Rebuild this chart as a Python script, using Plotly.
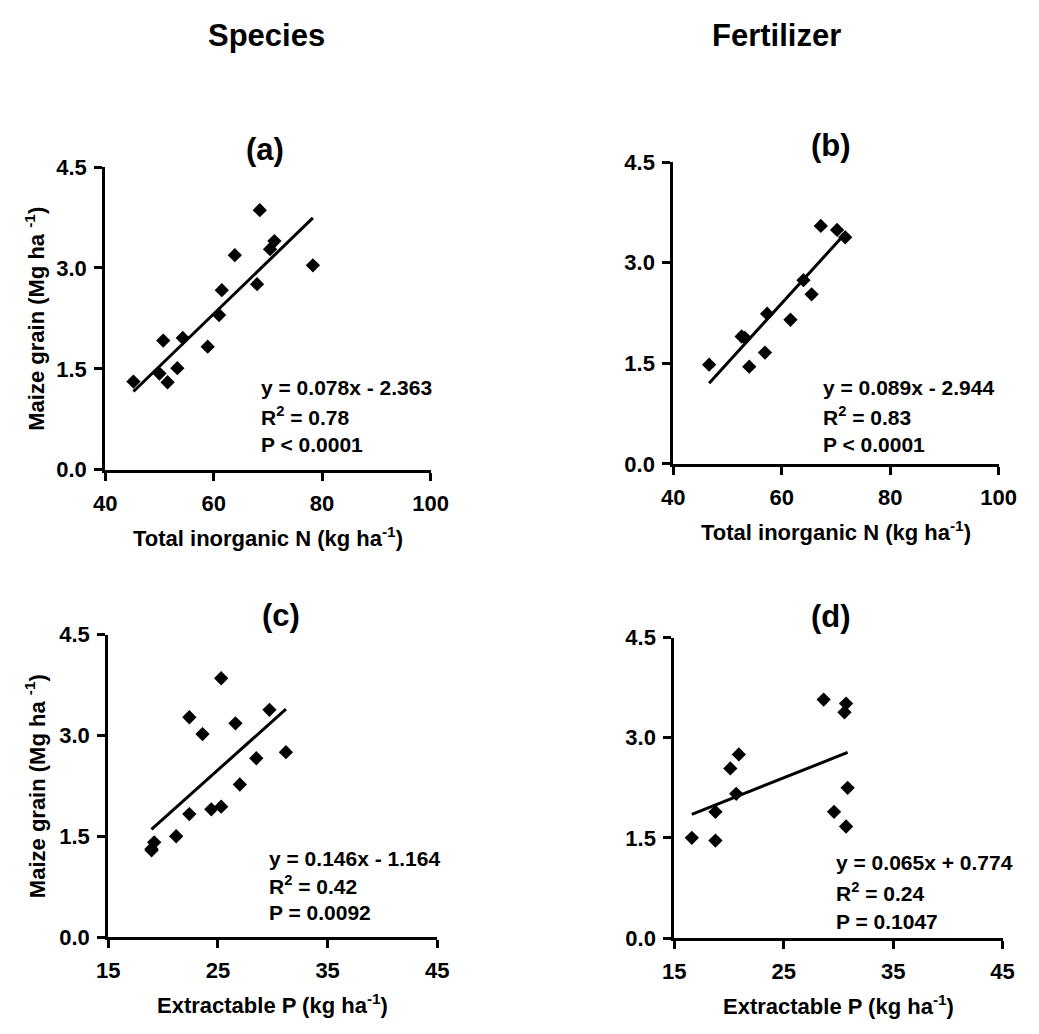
import plotly.graph_objects as go

# ---- data ----
# Species treatments (15 plots)
species_n = [45.2, 50.0, 50.7, 51.5, 53.3, 54.3, 58.9, 61.0, 61.5, 63.9, 68.0, 68.5, 70.4, 71.2, 78.3]
species_grain_n = [1.31, 1.43, 1.92, 1.30, 1.51, 1.96, 1.83, 2.30, 2.67, 3.19, 2.76, 3.86, 3.28, 3.40, 3.04]

species_p = [18.95, 18.96, 19.2, 21.2, 22.4, 22.4, 23.6, 24.4, 25.3, 25.3, 26.6, 27.0, 28.5, 29.7, 31.2]
species_grain_p = [1.31, 1.29, 1.41, 1.50, 3.27, 1.83, 3.02, 1.90, 3.85, 1.94, 3.18, 2.27, 2.66, 3.38, 2.75]

# Fertilizer treatments (12 plots)
fert_n = [46.6, 52.6, 53.2, 54.0, 56.9, 57.3, 61.6, 64.0, 65.5, 67.2, 70.2, 71.7]
fert_grain_n = [1.48, 1.90, 1.88, 1.45, 1.66, 2.24, 2.15, 2.74, 2.53, 3.55, 3.49, 3.38]

fert_p = [16.6, 18.76, 18.76, 20.12, 20.9, 20.66, 28.65, 29.6, 30.55, 30.7, 30.7, 30.84]
fert_grain_p = [1.50, 1.89, 1.46, 2.54, 2.75, 2.16, 3.57, 1.89, 3.38, 3.51, 1.67, 2.25]

# Regression fits: (slope, intercept, R2 text, P text)
fits = {
    "a": (0.078, -2.363, "0.78", "P < 0.0001"),
    "b": (0.089, -2.944, "0.83", "P < 0.0001"),
    "c": (0.146, -1.164, "0.42", "P = 0.0092"),
    "d": (0.065, 0.774, "0.24", "P = 0.1047"),
}

column_titles = ["Species", "Fertilizer"]
panel_labels = ["(a)", "(b)", "(c)", "(d)"]
y_title = "Maize grain (Mg ha <sup>-1</sup>)"
x_title_n = "Total inorganic N (kg ha<sup>-1</sup>)"
x_title_p = "Extractable P (kg ha<sup>-1</sup>)"

y_ticks = [0.0, 1.5, 3.0, 4.5]
x_ticks_n = [40, 60, 80, 100]
x_ticks_p = [15, 25, 35, 45]

# ---- layout geometry (pixels) ----
W, H = 1039, 1034
FONT = "Liberation Sans, Arial, sans-serif"
TICK_FONT = dict(family=FONT, size=22, color="#000000", weight="bold")


def px(x):
    return x / W


def py(y):
    return 1 - y / H


# panel: key, x data, y data, x ticks, x title, pixel box (left, right, top, bottom)
panels = [
    ("a", species_n, species_grain_n, x_ticks_n, x_title_n, (96, 431, 159, 469), True),
    ("b", fert_n, fert_grain_n, x_ticks_n, x_title_n, (681, 1016, 154, 463), False),
    ("c", species_p, species_grain_p, x_ticks_p, x_title_p, (99, 438, 638, 948), True),
    ("d", fert_p, fert_grain_p, x_ticks_p, x_title_p, (682, 1020, 641, 949), False),
]

# stats text positions (left x, first-line y, line spacing)
stat_pos = {"a": (254, 385, 29), "b": (833, 385, 29), "c": (263, 867, 28), "d": (846, 872, 30)}
label_pos = {"a": (261, 141), "b": (843, 137), "c": (277, 618), "d": (843, 619)}

fig = go.Figure()
annotations = []

for i, (key, xs, ys, xt, xtitle, box, show_ytitle) in enumerate(panels):
    l, r, t, b = box
    sfx = "" if i == 0 else str(i + 1)
    xa, ya = "x" + sfx, "y" + sfx

    fig.add_trace(go.Scatter(
        x=xs, y=ys, mode="markers", xaxis=xa, yaxis=ya,
        marker=dict(symbol="diamond", size=11, color="black", line=dict(width=0)),
        showlegend=False, hoverinfo="x+y",
    ))

    slope, icpt, r2, ptxt = fits[key]
    x0, x1 = min(xs), max(xs)
    fig.add_trace(go.Scatter(
        x=[x0, x1], y=[slope * x0 + icpt, slope * x1 + icpt], mode="lines",
        xaxis=xa, yaxis=ya, line=dict(color="black", width=3),
        showlegend=False, hoverinfo="skip",
    ))

    xaxis = go.layout.XAxis(
        domain=[px(l), px(r)], range=[xt[0], xt[-1]],
        tickmode="array", tickvals=xt, ticktext=[str(v) for v in xt],
        anchor=ya, showline=True, linecolor="black", linewidth=3,
        ticks="outside", ticklen=8, tickwidth=3, tickcolor="black",
        showgrid=False, zeroline=False, tickfont=TICK_FONT, ticklabelstandoff=4,
    )
    yaxis = go.layout.YAxis(
        domain=[py(b), py(t)], range=[0, 4.5],
        tickmode="array", tickvals=y_ticks, ticktext=[f"{v:.1f}" for v in y_ticks],
        anchor=xa, showline=True, linecolor="black", linewidth=3,
        ticks="outside", ticklen=8, tickwidth=3, tickcolor="black",
        showgrid=False, zeroline=False, tickfont=TICK_FONT, ticklabelstandoff=3,
    )
    fig.layout["xaxis" + sfx] = xaxis
    fig.layout["yaxis" + sfx] = yaxis

    # panel label
    lx, ly = label_pos[key]
    annotations.append(dict(
        x=px(lx), y=py(ly), xref="paper", yref="paper", text=panel_labels[i],
        showarrow=False, xanchor="center", yanchor="middle",
        font=dict(family=FONT, size=31, color="black", weight="bold")))

    # regression statistics
    sx, sy, dy = stat_pos[key]
    sign = "-" if icpt < 0 else "+"
    lines = [f"y = {slope:.3f}x {sign} {abs(icpt):.3f}", f"R<sup>2</sup> = {r2}", ptxt]
    for j, txt in enumerate(lines):
        annotations.append(dict(
            x=px(sx), y=py(sy + j * dy), xref="paper", yref="paper", text=txt,
            showarrow=False, xanchor="left", yanchor="middle",
            font=dict(family=FONT, size=21, color="black", weight="bold")))

    # x-axis title
    annotations.append(dict(
        x=px((l + r) / 2), y=py(b + 69), xref="paper", yref="paper", text=xtitle,
        showarrow=False, xanchor="center", yanchor="middle",
        font=dict(family=FONT, size=22, color="black", weight="bold")))

    # y-axis title
    if show_ytitle:
        annotations.append(dict(
            x=px(24), y=py((t + b) / 2), xref="paper", yref="paper", text=y_title,
            showarrow=False, xanchor="center", yanchor="middle", textangle=-90,
            font=dict(family=FONT, size=22, color="black", weight="bold")))

# column headings
for txt, cx in zip(column_titles, [262, 787]):
    annotations.append(dict(
        x=px(cx), y=py(24), xref="paper", yref="paper", text=txt,
        showarrow=False, xanchor="center", yanchor="middle",
        font=dict(family=FONT, size=31, color="black", weight="bold")))

fig.update_layout(
    width=W, height=H, margin=dict(l=0, r=0, t=0, b=0),
    paper_bgcolor="white", plot_bgcolor="white",
    font=dict(family=FONT, color="black"),
    annotations=annotations,
)

fig.write_html(
    "out.html",
    post_script="document.body.style.margin='0';document.body.style.overflow='hidden';",
)
